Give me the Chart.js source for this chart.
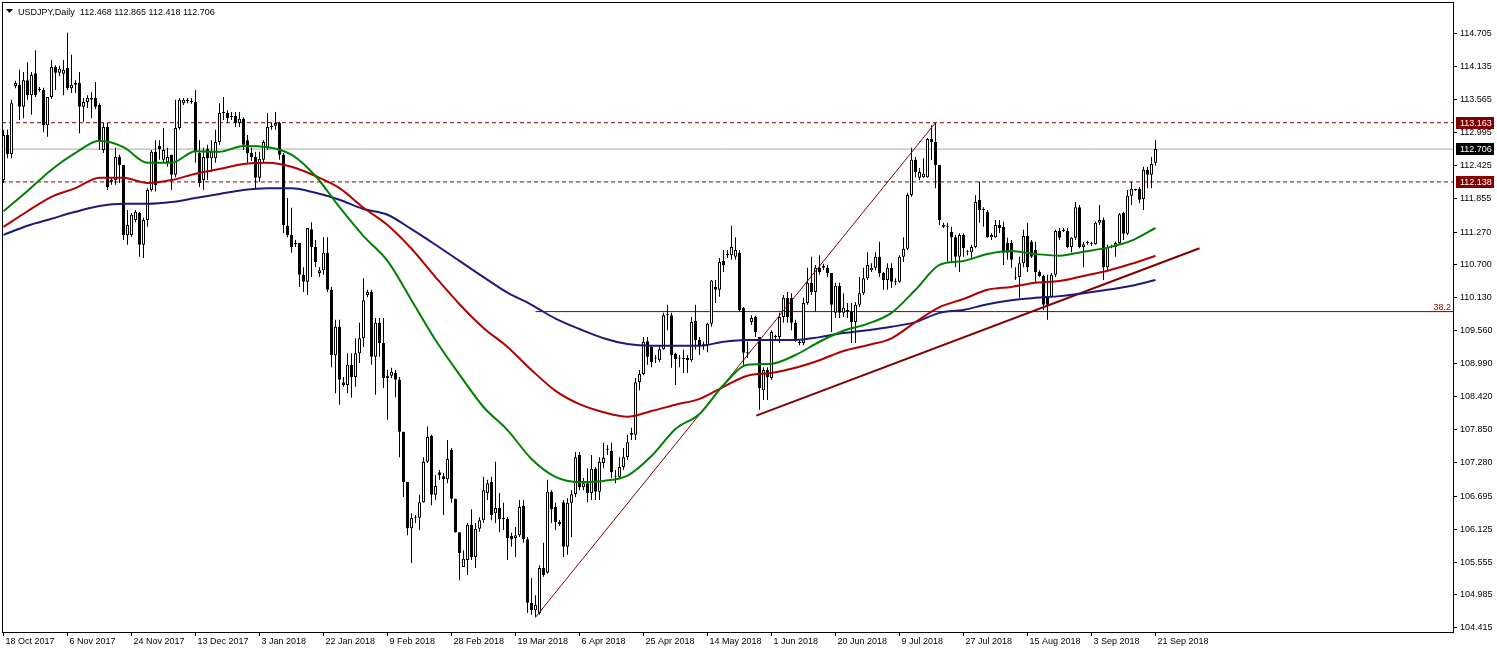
<!DOCTYPE html>
<html><head><meta charset="utf-8">
<script src="https://cdn.jsdelivr.net/npm/chart.js@4.4.1/dist/chart.umd.min.js"></script>
<style>html,body{margin:0;padding:0;background:#fff;overflow:hidden}canvas{display:block}</style>
</head><body>
<canvas id="c" width="1497" height="652"></canvas>
<script>
const symbolTitle = 'USDJPY,Daily';
const dateIdx = [0,16,32,48,64,80,96,112,128,144,160,176,192,208,224,240,256,272,288];
const dateLabels = ['18 Oct 2017','6 Nov 2017','24 Nov 2017','13 Dec 2017','3 Jan 2018','22 Jan 2018','9 Feb 2018','28 Feb 2018','19 Mar 2018','6 Apr 2018','25 Apr 2018','14 May 2018','1 Jun 2018','20 Jun 2018','9 Jul 2018','27 Jul 2018','15 Aug 2018','3 Sep 2018','21 Sep 2018'];
const yTicks = [114.705,114.135,113.565,112.995,112.425,111.855,111.270,110.700,110.130,109.560,108.990,108.420,107.850,107.280,106.695,106.125,105.555,104.985,104.415];

const opens = [
112.17,112.95,112.62,113.80,113.82,113.44,113.90,113.64,114.02,113.73,
113.73,113.12,113.61,114.13,114.03,114.01,114.11,113.76,113.82,113.85,
113.44,113.52,113.56,113.59,113.47,112.69,113.09,112.14,112.17,112.57,
112.43,111.22,111.22,111.48,111.60,111.05,111.48,112.00,112.66,112.76,
112.52,112.48,112.61,112.26,113.07,113.50,113.54,113.54,113.52,112.64,
112.17,112.71,112.55,112.55,112.83,113.33,113.33,113.26,113.28,113.16,
113.23,112.86,112.64,112.57,112.21,112.52,112.74,113.09,113.11,113.16,
112.61,111.38,111.22,111.08,111.08,110.53,110.41,111.32,111.01,110.56,
110.61,110.91,110.27,109.14,109.63,108.67,108.62,108.97,108.76,109.17,
109.43,110.18,110.23,109.11,109.70,109.35,108.74,108.78,108.83,108.71,
107.81,106.94,106.14,106.32,106.32,106.59,107.29,107.74,106.72,107.11,
107.04,106.99,107.50,106.65,106.07,105.47,105.59,106.20,105.64,106.13,
106.28,106.75,106.94,106.40,106.49,106.30,106.30,106.01,105.97,106.02,
106.53,105.95,104.85,104.72,104.67,105.45,105.37,106.77,106.51,106.25,
106.59,105.82,106.58,106.73,107.41,106.85,106.92,106.75,107.17,106.77,
107.27,107.50,107.48,107.03,107.03,107.20,107.37,107.76,107.76,108.67,
108.81,109.38,109.28,109.09,109.05,109.24,109.83,109.83,109.16,109.09,
109.09,109.09,109.05,109.73,109.40,109.31,109.31,109.68,110.32,110.27,
110.77,110.87,110.87,110.84,110.91,109.96,109.18,109.71,109.80,109.45,
108.53,108.88,108.74,109.45,109.45,109.80,110.13,110.13,109.70,109.35,
109.35,110.04,110.39,110.23,110.65,110.65,110.65,110.56,109.87,110.34,
109.87,109.92,109.89,109.71,110.01,110.21,110.47,110.61,110.65,110.84,
110.56,110.44,110.65,110.41,110.41,110.84,110.98,111.91,112.52,112.21,
112.22,112.22,112.88,112.83,112.43,111.39,111.36,111.27,111.18,110.84,
111.22,110.92,110.92,111.01,111.83,111.65,111.62,111.18,111.18,111.39,
111.36,111.08,111.08,110.47,110.49,110.73,111.20,111.10,110.96,110.58,
110.51,110.15,110.15,110.53,111.29,111.29,111.29,111.01,111.17,111.70,
111.01,111.08,111.06,111.06,111.43,111.48,110.66,111.01,111.01,111.08,
111.60,111.24,111.90,112.00,112.02,111.84,112.35,112.26,112.468];
const highs = [
113.04,113.04,113.56,113.89,114.08,114.04,114.21,114.04,114.42,113.78,
113.77,113.61,114.25,114.16,114.15,114.25,114.72,114.34,113.90,114.04,
113.59,113.64,113.69,113.87,113.50,113.16,113.16,112.21,112.73,112.61,
112.43,111.65,111.60,111.65,111.62,111.52,112.03,112.69,112.86,112.86,
113.07,112.73,112.61,113.56,113.59,113.59,113.59,113.59,113.73,112.86,
112.73,112.78,112.86,113.04,113.50,113.61,113.38,113.35,113.35,113.35,
113.26,112.95,112.73,112.66,112.66,112.86,113.33,113.16,113.35,113.18,
112.64,111.86,111.69,111.13,111.08,110.66,111.34,111.44,111.13,110.66,
111.18,111.18,110.32,109.75,109.75,108.76,109.17,109.17,109.43,109.70,
110.47,110.27,110.27,109.78,109.78,109.78,108.88,108.92,108.88,108.76,
107.81,106.94,106.40,106.37,106.72,107.37,107.90,107.76,107.06,107.15,
107.10,107.67,107.53,106.65,106.07,105.76,106.23,106.47,106.23,106.33,
107.03,106.98,107.03,107.29,106.75,106.58,106.33,106.06,106.16,106.63,
106.63,105.99,105.28,104.98,105.50,105.89,106.98,106.80,106.58,106.28,
106.63,106.66,106.80,107.46,107.46,107.01,107.18,107.41,107.20,107.37,
107.62,107.58,107.62,107.15,107.37,107.53,107.76,107.88,108.74,108.88,
109.45,109.45,109.31,109.14,109.31,109.87,110.01,109.87,109.18,109.14,
109.23,109.14,109.80,110.01,109.45,109.37,109.70,110.44,110.44,110.82,
110.96,110.96,111.38,111.18,110.96,109.97,109.37,109.83,109.82,109.45,
108.93,108.93,109.57,109.49,109.87,110.18,110.23,110.21,109.75,109.40,
110.13,110.65,110.84,110.70,110.87,110.72,110.70,110.56,110.39,110.39,
110.21,110.04,110.04,110.06,110.49,110.65,110.92,110.73,110.92,111.10,
110.58,110.73,110.73,110.47,110.87,111.18,111.95,112.73,112.57,112.38,
112.55,112.90,113.12,113.163,112.43,111.43,111.43,111.36,111.22,111.25,
111.25,110.96,111.05,111.91,112.14,111.70,111.65,111.25,111.48,111.48,
111.45,111.17,111.13,110.66,110.84,111.31,111.43,111.13,111.10,110.61,
110.53,110.53,110.56,111.31,111.34,111.34,111.34,111.18,111.79,111.74,
111.10,111.12,111.10,111.45,111.74,111.52,111.05,111.05,111.10,111.60,
111.62,112.00,112.14,112.02,112.05,112.40,112.40,112.57,112.865];
const lows = [
112.12,112.55,112.55,113.76,113.21,113.24,113.56,113.30,113.61,113.70,
113.00,112.92,113.58,113.73,113.97,113.64,113.73,113.68,113.68,112.98,
113.18,113.42,113.24,113.40,112.69,112.64,112.00,112.09,112.09,112.12,
111.13,111.05,111.19,111.44,110.84,110.82,111.36,111.97,111.97,112.52,
112.48,112.40,112.00,112.22,113.04,113.47,113.50,113.49,112.47,112.05,
112.00,112.17,112.31,112.47,112.78,113.21,113.16,113.21,113.09,113.09,
112.69,112.47,112.50,112.03,112.14,112.47,112.69,113.04,113.04,112.52,
111.25,111.18,110.91,111.01,110.32,110.23,110.18,110.49,110.66,110.49,
110.53,110.23,108.93,108.48,108.28,108.59,108.48,108.40,108.59,109.00,
109.28,110.14,108.97,108.45,109.11,108.57,108.02,108.74,108.41,107.37,
106.68,106.02,105.54,106.23,106.11,106.58,107.27,106.54,106.63,106.98,
106.37,106.92,106.58,106.06,105.24,105.47,105.33,105.59,105.45,106.08,
106.23,106.63,106.28,106.23,106.07,106.11,105.59,105.82,105.64,105.99,
105.89,104.67,104.64,104.60,104.64,105.30,105.35,106.23,106.11,106.18,
105.64,105.68,105.99,106.68,106.80,106.80,106.59,106.63,106.63,106.63,
107.18,107.41,107.01,106.92,107.01,107.15,107.32,107.67,107.67,108.53,
108.79,108.97,108.93,109.00,109.02,109.23,109.57,108.92,108.62,108.93,
108.83,108.83,109.02,109.23,109.14,109.23,109.19,109.63,110.04,110.15,
110.58,110.82,110.79,110.79,109.89,108.97,109.09,109.66,109.45,108.19,
108.36,108.36,108.71,109.40,109.35,109.70,109.70,109.57,109.37,109.31,
109.31,110.01,110.18,109.89,110.53,110.61,110.49,109.54,109.78,109.78,
109.80,109.78,109.35,109.35,109.97,110.18,110.44,110.58,110.61,110.49,
110.27,110.27,110.30,110.35,110.39,110.75,110.96,111.88,112.22,112.17,
112.21,112.21,112.52,112.03,111.39,111.34,110.75,110.75,110.66,110.58,
110.84,110.87,110.79,110.99,111.43,111.36,111.17,111.13,111.17,111.25,
110.70,110.79,110.65,110.44,110.13,110.66,110.58,110.82,110.39,110.49,
109.92,109.75,110.13,110.49,111.13,111.27,110.99,110.92,111.13,110.99,
110.66,111.05,111.03,111.05,111.39,110.44,110.61,110.99,110.84,111.05,
111.13,111.22,111.74,111.98,111.77,111.65,112.03,112.03,112.418];
const closes = [
112.95,112.62,113.50,113.85,113.44,113.90,113.64,113.99,113.64,113.75,
113.12,113.61,114.13,114.03,114.10,114.08,113.76,113.82,113.85,113.44,
113.52,113.59,113.59,113.44,112.86,113.09,112.05,112.17,112.57,112.43,
111.22,111.39,111.57,111.62,111.05,111.48,112.00,112.66,112.08,112.71,
112.69,112.57,112.26,113.07,113.56,113.56,113.56,113.52,112.66,112.12,
112.57,112.55,112.66,112.83,113.33,113.35,113.24,113.28,113.16,113.23,
112.78,112.64,112.57,112.21,112.54,112.83,113.09,113.11,113.16,112.61,
111.39,111.22,111.01,111.06,110.53,110.41,111.34,111.01,110.75,110.61,
110.91,110.27,109.14,109.63,108.71,108.62,108.97,108.76,109.17,109.43,
110.09,110.23,109.11,109.70,109.35,108.74,108.78,108.85,108.71,107.81,
106.94,106.14,106.32,106.33,106.59,107.29,107.72,106.72,106.87,107.06,
106.99,107.34,106.65,106.07,105.71,105.61,106.20,105.64,106.13,106.28,
106.80,106.92,106.37,106.49,106.30,106.31,105.97,105.95,106.02,106.51,
105.95,104.85,104.72,104.81,105.45,105.33,106.77,106.47,106.25,106.21,
105.82,106.58,106.73,107.37,106.85,106.92,106.75,107.17,106.77,107.29,
107.36,107.51,107.11,107.04,107.20,107.37,107.63,107.79,108.67,108.81,
109.37,109.11,109.02,109.08,109.24,109.83,109.84,109.14,109.07,109.08,
109.07,109.05,109.71,109.40,109.30,109.32,109.68,110.43,110.27,110.75,
110.70,110.89,111.01,110.96,109.92,109.18,109.17,109.78,109.54,108.57,
108.88,108.76,109.54,109.46,109.80,110.13,109.80,109.70,109.40,109.37,
110.04,110.39,110.23,110.65,110.58,110.68,110.56,110.01,110.34,109.87,
109.96,109.89,109.71,110.01,110.21,110.47,110.70,110.65,110.84,110.56,
110.44,110.65,110.41,110.40,110.84,110.98,111.91,112.52,112.31,112.31,
112.28,112.88,112.83,112.43,111.48,111.36,111.38,111.18,110.84,111.22,
110.99,110.93,111.01,111.79,111.65,111.66,111.18,111.22,111.39,111.34,
110.91,110.91,110.79,110.48,110.73,111.20,110.66,110.84,110.58,110.51,
110.01,110.01,110.53,111.29,111.17,111.31,111.01,111.17,111.70,111.01,
111.06,111.09,111.07,111.43,111.48,110.66,111.01,111.03,111.08,111.58,
111.24,111.90,112.02,112.01,111.83,112.35,112.26,112.45,112.706];

const maIdx = [0,6,12,18,24,30,36,42,48,54,60,66,72,78,84,90,96,102,108,114,120,126,132,138,144,150,156,162,168,174,180,186,192,198,204,210,216,222,228,234,240,246,252,258,264,270,276,282,288];
const maGreen = [111.63,111.98,112.35,112.64,112.85,112.74,112.47,112.47,112.67,112.66,112.76,112.74,112.61,112.24,111.70,111.20,110.77,110.09,109.40,108.80,108.24,107.84,107.34,107.03,106.94,106.96,107.05,107.39,107.86,108.12,108.62,108.97,108.99,109.14,109.37,109.56,109.68,109.87,110.27,110.70,110.77,110.89,110.94,110.89,110.86,110.93,111.00,111.12,111.34];
const maRed = [111.36,111.63,111.88,112.03,112.21,112.21,112.12,112.17,112.28,112.36,112.45,112.47,112.40,112.24,112.03,111.69,111.39,110.98,110.49,110.02,109.61,109.28,108.88,108.52,108.29,108.15,108.07,108.17,108.28,108.38,108.59,108.78,108.83,108.92,109.05,109.21,109.31,109.43,109.71,109.97,110.11,110.27,110.32,110.39,110.42,110.51,110.60,110.72,110.86];
const maNavy = [111.22,111.38,111.50,111.62,111.72,111.76,111.76,111.79,111.86,111.93,112.00,112.03,112.03,111.95,111.83,111.67,111.57,111.32,111.05,110.77,110.49,110.22,110.01,109.77,109.59,109.43,109.33,109.30,109.30,109.30,109.37,109.40,109.40,109.40,109.45,109.52,109.57,109.63,109.71,109.87,109.92,110.02,110.09,110.13,110.16,110.21,110.27,110.34,110.44];

const hLevels = [113.163, 112.706, 112.138];
const fibName = '38,2';
const fibLevel = 109.892;
const fibStartIdx = 133;
const trendThinIdx = [133, 233];
const trendThinPrice = [104.60, 113.163];
const trendThickIdx = [188.2, 299];
const trendThickPrice = [108.09, 110.99];

const X_MIN = -0.375, X_MAX = 362.375, Y_MIN = 104.343, Y_MAX = 115.254;
const FONT = {family: 'Liberation Sans', size: 9};
const tagColors = ['#800000', '#000000', '#800000'];

const overlay = {
  id: 'overlay',
  afterDraw(chart) {
    const {ctx, chartArea: a, scales: {y}} = chart;
    ctx.save();
    ctx.strokeStyle = '#000'; ctx.lineWidth = 1;
    ctx.strokeRect(a.left + 0.5, a.top + 0.5, a.right - a.left, a.bottom - a.top);
    ctx.fillStyle = '#000';
    ctx.beginPath(); ctx.moveTo(6, 9); ctx.lineTo(13, 9); ctx.lineTo(9.5, 13); ctx.closePath(); ctx.fill();
    ctx.font = '9px "Liberation Sans"';
    ctx.textAlign = 'left'; ctx.textBaseline = 'alphabetic';
    const n = closes.length - 1;
    ctx.fillText(symbolTitle + '  ' + [opens[n], highs[n], lows[n], closes[n]].map(v => v.toFixed(3)).join(' '), 18, 15);
    hLevels.forEach((v, k) => {
      const py = Math.round(y.getPixelForValue(v));
      ctx.fillStyle = tagColors[k];
      ctx.fillRect(a.right + 3, py - 6, 38, 12);
      ctx.fillStyle = '#fff'; ctx.textBaseline = 'middle';
      ctx.fillText(v.toFixed(3), a.right + 7, py + 0.5);
    });
    ctx.fillStyle = '#800000'; ctx.textAlign = 'right'; ctx.textBaseline = 'alphabetic';
    ctx.fillText(fibName, a.right - 2, y.getPixelForValue(fibLevel) - 2);
    ctx.restore();
  }
};

const lineDs = (xs, ys, color, width, order, dash, smooth) => ({
  type: 'line', data: xs.map((v, i) => ({x: v, y: ys[i]})), borderColor: color, borderWidth: width,
  borderDash: dash || [], pointRadius: 0, fill: false, tension: smooth ? 0.4 : 0,
  cubicInterpolationMode: smooth ? 'monotone' : 'default', order: order
});

const datasets = [
  lineDs(maIdx, maGreen, '#008000', 2, 0, null, true),
  lineDs(maIdx, maRed, '#b00000', 2, 0, null, true),
  lineDs(maIdx, maNavy, '#1e1a78', 2, 0, null, true),
  lineDs(trendThickIdx, trendThickPrice, '#800000', 2, 1),
  lineDs(trendThinIdx, trendThinPrice, '#800000', 1, 1),
  {
    type: 'bar', order: 2, grouped: false, barThickness: 3, minBarLength: 1, inflateAmount: 0,
    data: opens.map((o, i) => ({x: i, y: [o, closes[i]]})),
    backgroundColor: c => (c.raw && c.raw.y[1] >= c.raw.y[0]) ? '#ffffff' : '#000000',
    borderColor: '#000', borderWidth: 1, borderSkipped: false
  },
  {
    type: 'bar', order: 3, grouped: false, barThickness: 1, inflateAmount: 0,
    data: lows.map((l, i) => ({x: i, y: [l, highs[i]]})),
    backgroundColor: '#000', borderWidth: 0
  },
  lineDs([X_MIN, X_MAX], [hLevels[0], hLevels[0]], '#800000', 1, 4, [4, 3]),
  lineDs([X_MIN, X_MAX], [hLevels[1], hLevels[1]], '#a8a8a8', 1, 4),
  lineDs([X_MIN, X_MAX], [hLevels[2], hLevels[2]], '#800000', 1, 4, [4, 3]),
  lineDs([fibStartIdx, X_MAX], [fibLevel, fibLevel], '#800000', 1, 4)
];

Chart.defaults.font.family = FONT.family;
Chart.defaults.font.size = FONT.size;
Chart.defaults.color = '#000';

new Chart(document.getElementById('c'), {
  type: 'bar',
  data: {datasets},
  plugins: [overlay],
  options: {
    responsive: false, animation: false, devicePixelRatio: 1,
    layout: {padding: {left: 2, top: 2, right: 0, bottom: 0}},
    plugins: {legend: {display: false}, tooltip: {enabled: false}},
    scales: {
      x: {
        type: 'linear', min: X_MIN, max: X_MAX, offset: false, position: 'bottom',
        grid: {drawOnChartArea: false, drawTicks: true, tickLength: 4, color: '#000', offset: false},
        border: {display: true, color: '#000'},
        ticks: {autoSkip: false, maxRotation: 0, align: 'start', labelOffset: 2, padding: 0, color: '#000', font: FONT,
          callback: (v, i) => dateLabels[i]},
        afterBuildTicks: s => { s.ticks = dateIdx.map(v => ({value: v})); },
        afterFit: s => { s.height = 20; s.paddingLeft = 0; s.paddingRight = 0; }
      },
      y: {
        type: 'linear', position: 'right', min: Y_MIN, max: Y_MAX,
        grid: {drawOnChartArea: false, drawTicks: true, tickLength: 4, color: '#000'},
        border: {display: true, color: '#000'},
        ticks: {padding: 3, color: '#000', font: FONT, callback: v => Number(v).toFixed(3)},
        afterBuildTicks: s => { s.ticks = yTicks.map(v => ({value: v})); },
        afterFit: s => { s.width = 44; s.paddingTop = 0; s.paddingBottom = 0; }
      }
    }
  }
});
</script>
</body></html>
